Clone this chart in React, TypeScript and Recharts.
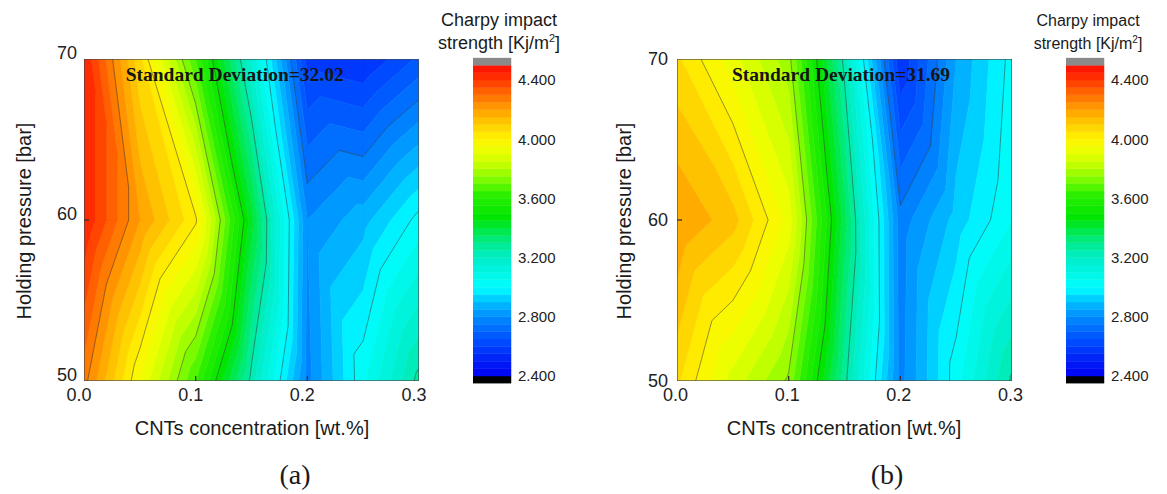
import React from 'react';
import { ScatterChart, Scatter, XAxis, YAxis, BarChart, Bar } from 'recharts';

// ---------- data ----------
const concentrations = [0, 0.05, 0.1, 0.15, 0.2, 0.25, 0.3];
const pressures = [50, 60, 70];
const xTicks = [0, 0.1, 0.2, 0.3];
const yTicks = [50, 60, 70];
const barTicks = [2.4, 2.8, 3.2, 3.6, 4.0, 4.4];

// Charpy impact strength [kJ/m2], panel (a)
const strengthA50 = [4.27, 3.95, 3.65, 3.23, 2.78, 3.04, 3.27];
const strengthA60 = [4.45, 4.2, 4.01, 3.42, 2.8, 2.88, 3.02];
const strengthA70 = [4.45, 4.06, 3.65, 3.15, 2.58, 2.55, 2.66];
// panel (b)
const strengthB50 = [4.06, 3.88, 3.74, 3.27, 2.78, 3.03, 3.26];
const strengthB60 = [4.2, 4.12, 3.93, 3.37, 2.77, 2.92, 3.05];
const strengthB70 = [4.06, 3.92, 3.77, 3.23, 2.55, 2.85, 3.02];

const stdDevA = '32.02';
const stdDevB = '31.69';

const bandStart = 2.35;
const bandStep = 0.05;
const bandCount = 44;
const lineLevels = [2.5, 2.75, 3.0, 3.25, 3.5, 3.75, 4.0, 4.25, 4.5];

const colorStops: [number, number, number, number][] = [
  [2.4, 0, 0, 245],
  [2.5, 0, 30, 245],
  [2.6, 0, 65, 255],
  [2.7, 0, 100, 255],
  [2.8, 0, 140, 255],
  [2.9, 0, 190, 255],
  [2.97, 0, 240, 255],
  [3.02, 0, 252, 250],
  [3.2, 0, 238, 200],
  [3.3, 0, 235, 140],
  [3.4, 0, 232, 60],
  [3.47, 0, 230, 0],
  [3.62, 40, 238, 0],
  [3.72, 120, 250, 0],
  [3.82, 190, 255, 0],
  [3.92, 235, 255, 0],
  [4.0, 255, 245, 0],
  [4.1, 255, 205, 0],
  [4.2, 255, 160, 0],
  [4.3, 255, 110, 0],
  [4.4, 255, 55, 0],
  [4.5, 255, 10, 0],
];

const SANS = '"Liberation Sans", Arial, sans-serif';
const SERIF = '"Liberation Serif", "Times New Roman", serif';

function cmap(v: number): string {
  if (v < 2.4) return '#000000';
  if (v > 4.5) return '#8a8a8a';
  for (let i = 0; i < colorStops.length - 1; i++) {
    const a = colorStops[i];
    const b = colorStops[i + 1];
    if (v >= a[0] && v <= b[0]) {
      const f = (v - a[0]) / (b[0] - a[0]);
      const r = Math.round(a[1] + f * (b[1] - a[1]));
      const g = Math.round(a[2] + f * (b[2] - a[2]));
      const bl = Math.round(a[3] + f * (b[3] - a[3]));
      return `rgb(${r},${g},${bl})`;
    }
  }
  return '#ff0000';
}

type P = { x: number; y: number; v: number };

function clip(poly: P[], t: number, keepAbove: boolean): P[] {
  const out: P[] = [];
  for (let i = 0; i < poly.length; i++) {
    const a = poly[i];
    const b = poly[(i + 1) % poly.length];
    const ina = keepAbove ? a.v >= t : a.v <= t;
    const inb = keepAbove ? b.v >= t : b.v <= t;
    if (ina) out.push(a);
    if (ina !== inb) {
      const f = (t - a.v) / (b.v - a.v);
      out.push({ x: a.x + f * (b.x - a.x), y: a.y + f * (b.y - a.y), v: t });
    }
  }
  return out;
}

function ContourLayer(props: any) {
  const { points, values, nx, ny } = props;
  if (!points || points.length !== nx * ny) return null;
  const node = (i: number, j: number): P => ({
    x: points[j * nx + i].x,
    y: points[j * nx + i].y,
    v: values[j * nx + i],
  });
  const tris: P[][] = [];
  for (let j = 0; j < ny - 1; j++) {
    for (let i = 0; i < nx - 1; i++) {
      const BL = node(i, j), BR = node(i + 1, j), TL = node(i, j + 1), TR = node(i + 1, j + 1);
      tris.push([BL, BR, TL]);
      tris.push([TL, BR, TR]);
    }
  }
  const bandPaths: string[] = new Array(bandCount).fill('');
  tris.forEach((tri) => {
    const vmin = Math.min(...tri.map((p) => p.v));
    const vmax = Math.max(...tri.map((p) => p.v));
    for (let k = 0; k < bandCount; k++) {
      const lo = bandStart + k * bandStep;
      const hi = lo + bandStep;
      if (hi < vmin || lo > vmax) continue;
      const poly = clip(clip(tri, lo, true), hi, false);
      if (poly.length >= 3) {
        bandPaths[k] += 'M' + poly.map((p) => `${p.x.toFixed(2)},${p.y.toFixed(2)}`).join('L') + 'Z';
      }
    }
  });
  let lineD = '';
  lineLevels.forEach((L) => {
    tris.forEach((tri) => {
      const pts: { x: number; y: number }[] = [];
      for (let e = 0; e < 3; e++) {
        const a = tri[e];
        const b = tri[(e + 1) % 3];
        if ((a.v - L) * (b.v - L) < 0) {
          const f = (L - a.v) / (b.v - a.v);
          pts.push({ x: a.x + f * (b.x - a.x), y: a.y + f * (b.y - a.y) });
        }
      }
      if (pts.length === 2) {
        lineD += `M${pts[0].x.toFixed(2)},${pts[0].y.toFixed(2)}L${pts[1].x.toFixed(2)},${pts[1].y.toFixed(2)}`;
      }
    });
  });
  const xs = points.map((p: any) => p.x);
  const ys = points.map((p: any) => p.y);
  const left = Math.min(...xs), right = Math.max(...xs);
  const top = Math.min(...ys), bottom = Math.max(...ys);
  const innerX = xTicks
    .filter((t) => t > concentrations[0] && t < concentrations[concentrations.length - 1])
    .map((t) => concentrations.findIndex((c) => Math.abs(c - t) < 1e-9))
    .filter((i) => i >= 0)
    .map((i) => points[i].x);
  const innerY = yTicks
    .filter((t) => t > pressures[0] && t < pressures[pressures.length - 1])
    .map((t) => pressures.findIndex((p) => p === t))
    .filter((j) => j >= 0)
    .map((j) => points[j * nx].y);
  return (
    <g>
      {bandPaths.map((d, k) =>
        d ? (
          <path key={k} d={d} fill={cmap(bandStart + (k + 0.5) * bandStep)} stroke={cmap(bandStart + (k + 0.5) * bandStep)} strokeWidth={0.6} />
        ) : null
      )}
      <path d={lineD} fill="none" stroke="#2b2b2b" strokeWidth={0.6} strokeOpacity={0.8} />
      <rect x={left} y={top} width={right - left} height={bottom - top} fill="none" stroke="#4a4a4a" strokeWidth={1.3} />
      {innerX.map((x: number, i: number) => (
        <line key={'tx' + i} x1={x} x2={x} y1={bottom} y2={bottom - 5} stroke="#333" strokeWidth={1.3} />
      ))}
      {innerY.map((y: number, i: number) => (
        <line key={'ty' + i} x1={left} x2={left + 5} y1={y} y2={y} stroke="#333" strokeWidth={1.3} />
      ))}
    </g>
  );
}

function makeNodes(rows: number[][]) {
  const out: { x: number; y: number; v: number }[] = [];
  pressures.forEach((p, j) => concentrations.forEach((c, i) => out.push({ x: c, y: p, v: rows[j][i] })));
  return out;
}

function ContourPanel({ left, rows, xDx, yDy, yGap }: { left: number; rows: number[][]; xDx: number; yDy: number; yGap: number }) {
  const nodes = makeNodes(rows);
  const values = nodes.map((n) => n.v);
  return (
    <div style={{ position: 'absolute', left, top: 0 }}>
      <ScatterChart width={440} height={440} margin={{ top: 59, right: 21, bottom: 29, left: 24 }}>
        <XAxis
          type="number"
          dataKey="x"
          domain={[0, 0.3]}
          ticks={xTicks}
          allowDataOverflow
          axisLine={false}
          tickLine={false}
          tickSize={5}
          tickMargin={2}
          height={30}
          tick={(p: any) => (
            <text x={p.x + xDx} y={p.y} dy="0.71em" textAnchor="middle" fontFamily={SANS} fontSize={18} fill="#222">
              {Number(p.payload.value).toFixed(1)}
            </text>
          )}
        />
        <YAxis
          type="number"
          dataKey="y"
          domain={[50, 70]}
          ticks={yTicks}
          allowDataOverflow
          axisLine={false}
          tickLine={false}
          tickSize={5}
          tickMargin={yGap - 5}
          width={60}
          tick={(p: any) => (
            <text x={p.x} y={p.y + yDy} dy="0.355em" textAnchor="end" fontFamily={SANS} fontSize={18} fill="#222">
              {p.payload.value}
            </text>
          )}
        />
        <Scatter
          data={nodes}
          isAnimationActive={false}
          fill="#000"
          shape={() => <g />}
          line={<ContourLayer values={values} nx={concentrations.length} ny={pressures.length} />}
        />
      </ScatterChart>
    </div>
  );
}

function ColorBar({ left }: { left: number }) {
  const row: Record<string, number | string> = { name: 'bar', base: bandStart };
  for (let k = 0; k < bandCount; k++) row['b' + k] = bandStep;
  const bands = Array.from({ length: bandCount }, (_, k) => k);
  return (
    <div style={{ position: 'absolute', left, top: 0 }}>
      <BarChart
        width={100}
        height={440}
        data={[row]}
        margin={{ top: 57.8, right: 2, bottom: 56.6, left: 0 }}
        barCategoryGap={0}
        barGap={0}
      >
        <XAxis dataKey="name" hide />
        <YAxis
          orientation="right"
          type="number"
          domain={[bandStart, bandStart + bandCount * bandStep]}
          allowDataOverflow
          ticks={barTicks}
          width={60}
          axisLine={false}
          tickLine={false}
          tickSize={6}
          tickMargin={1}
          tick={(p: any) => (
            <text x={p.x} y={p.y} dy="0.355em" textAnchor="start" fontFamily={SANS} fontSize={15} fill="#222">
              {Number(p.payload.value).toFixed(3)}
            </text>
          )}
        />
        <Bar dataKey="base" stackId="s" fill="none" isAnimationActive={false} />
        {bands.map((k) => {
          const c = cmap(bandStart + (k + 0.5) * bandStep);
          return <Bar key={k} dataKey={'b' + k} stackId="s" fill={c} stroke={c} strokeWidth={0.5} isAnimationActive={false} />;
        })}
      </BarChart>
    </div>
  );
}

export default function App() {
  return (
    <div style={{ position: 'absolute', left: 0, top: 0, width: 1167, height: 494, background: '#fff', overflow: 'hidden' }}>
      <ContourPanel left={0} rows={[strengthA50, strengthA60, strengthA70]} xDx={-5} yDy={-6} yGap={7} />
      <ContourPanel left={593} rows={[strengthB50, strengthB60, strengthB70]} xDx={-1.5} yDy={0} yGap={9} />
      <ColorBar left={473} />
      <ColorBar left={1066} />
      <svg width={1167} height={494} style={{ position: 'absolute', left: 0, top: 0, pointerEvents: 'none' }}>
        <text x={125.7} y={81} fontFamily={SERIF} fontWeight="bold" fontSize={19.5} fill="#151515">
          {'Standard Deviation=' + stdDevA}
        </text>
        <text x={732} y={81} fontFamily={SERIF} fontWeight="bold" fontSize={19.5} fill="#151515">
          {'Standard Deviation=' + stdDevB}
        </text>
        <text x={252} y={435} textAnchor="middle" fontFamily={SANS} fontSize={20} fill="#1a1a1a">
          CNTs concentration [wt.%]
        </text>
        <text x={844} y={435} textAnchor="middle" fontFamily={SANS} fontSize={20} fill="#1a1a1a">
          CNTs concentration [wt.%]
        </text>
        <text transform="translate(31,221) rotate(-90)" textAnchor="middle" fontFamily={SANS} fontSize={20} fill="#1a1a1a">
          Holding pressure [bar]
        </text>
        <text transform="translate(631,221) rotate(-90)" textAnchor="middle" fontFamily={SANS} fontSize={20} fill="#1a1a1a">
          Holding pressure [bar]
        </text>
        <text x={499} y={26} textAnchor="middle" fontFamily={SANS} fontSize={18} fill="#1a1a1a">
          Charpy impact
        </text>
        <text x={499} y={49} textAnchor="middle" fontFamily={SANS} fontSize={18} fill="#1a1a1a">
          strength [Kj/m<tspan dy={-7} fontSize={11}>2</tspan>
          <tspan dy={7}>]</tspan>
        </text>
        <text x={1088} y={26} textAnchor="middle" fontFamily={SANS} fontSize={16} fill="#1a1a1a">
          Charpy impact
        </text>
        <text x={1088} y={49} textAnchor="middle" fontFamily={SANS} fontSize={16} fill="#1a1a1a">
          strength [Kj/m<tspan dy={-6} fontSize={10}>2</tspan>
          <tspan dy={6}>]</tspan>
        </text>
        <text x={295} y={484} textAnchor="middle" fontFamily={SERIF} fontSize={28} fill="#1a1a1a">
          (a)
        </text>
        <text x={887} y={484} textAnchor="middle" fontFamily={SERIF} fontSize={28} fill="#1a1a1a">
          (b)
        </text>
      </svg>
    </div>
  );
}
